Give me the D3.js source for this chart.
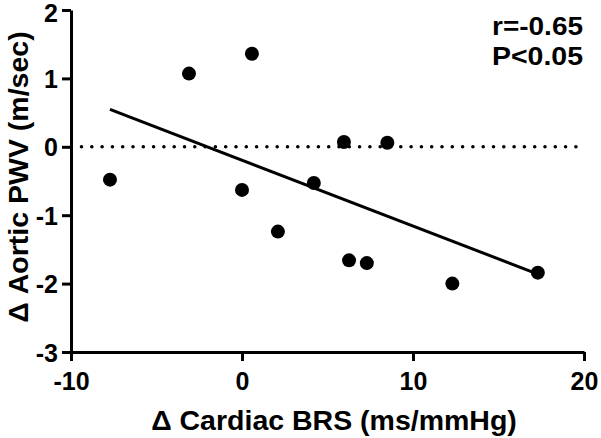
<!DOCTYPE html>
<html>
<head>
<meta charset="utf-8">
<script src="https://cdn.jsdelivr.net/npm/d3@7"></script>
<style>
  html, body { margin: 0; padding: 0; background: #fff; }
  svg { display: block; }
  text { font-family: "Liberation Sans", Arial, sans-serif; font-weight: bold; fill: #000; }
</style>
</head>
<body>
<svg id="chart" width="601" height="438"></svg>
<script>
// Data
const brsChange = [-7.72, -3.1, 0.58, 0.0, 2.1, 4.2, 5.96, 6.26, 7.3, 8.5, 12.3, 17.3];
const pwvChange = [-0.48, 1.07, 1.36, -0.63, -1.24, -0.53, 0.07, -1.66, -1.70, 0.06, -2.0, -1.84];
const xTicks = [-10, 0, 10, 20];
const yTicks = [-3, -2, -1, 0, 1, 2];
const statLines = ["r=-0.65", "P<0.05"];

const svg = d3.select("#chart");
const x = d3.scaleLinear().domain([-10, 20]).range([71, 584]);
const y = d3.scaleLinear().domain([-3, 2]).range([352, 10]);

// Axes
const xAxis = svg.append("g").attr("transform", `translate(0,${y(-3)})`)
  .call(d3.axisBottom(x).tickValues(xTicks).tickSize(9).tickPadding(6).tickSizeOuter(0).tickFormat(d => String(d)));
const yAxis = svg.append("g").attr("transform", `translate(${x(-10)},0)`)
  .call(d3.axisLeft(y).tickValues(yTicks).tickSize(9).tickPadding(4).tickSizeOuter(0).tickFormat(d => String(d)));
[xAxis, yAxis].forEach(g => {
  g.selectAll("path.domain").attr("stroke", "#000").attr("stroke-width", 3);
  g.selectAll(".tick line").attr("stroke", "#000").attr("stroke-width", 3);
  g.selectAll(".tick text").style("font-size", "25px").style("font-family", "'Liberation Sans', Arial, sans-serif").style("font-weight", "bold").attr("fill", "#000");
});
xAxis.selectAll(".tick text").attr("dy", "0.92em");
yAxis.selectAll(".tick text").attr("dy", d => d === 2 ? "0.45em" : "0.36em");

// Dotted zero line
svg.append("line")
  .attr("x1", x(-10) + 10.5).attr("x2", x(20))
  .attr("y1", y(0)).attr("y2", y(0))
  .attr("stroke", "#000").attr("stroke-width", 3.6)
  .attr("stroke-linecap", "round").attr("stroke-dasharray", "0 10.3");

// Linear regression from data
const n = brsChange.length;
const mx = d3.mean(brsChange), my = d3.mean(pwvChange);
let sxy = 0, sxx = 0;
for (let i = 0; i < n; i++) { sxy += (brsChange[i] - mx) * (pwvChange[i] - my); sxx += (brsChange[i] - mx) ** 2; }
const slope = sxy / sxx, icpt = my - slope * mx;
const [xmin, xmax] = d3.extent(brsChange);
svg.append("line")
  .attr("x1", x(xmin)).attr("y1", y(icpt + slope * xmin))
  .attr("x2", x(xmax)).attr("y2", y(icpt + slope * xmax))
  .attr("stroke", "#000").attr("stroke-width", 3);

// Points
svg.append("g").selectAll("circle")
  .data(brsChange.map((v, i) => [v, pwvChange[i]]))
  .join("circle")
  .attr("cx", d => x(d[0])).attr("cy", d => y(d[1])).attr("r", 7)
  .attr("fill", "#000");

// Stats text
svg.append("g").selectAll("text").data(statLines).join("text")
  .attr("x", 583).attr("y", (d, i) => 35 + i * 30)
  .attr("text-anchor", "end").style("font-size", "25px")
  .attr("textLength", 91).attr("lengthAdjust", "spacingAndGlyphs").text(d => d);

// Axis titles
svg.append("text").attr("x", 334).attr("y", 430).attr("text-anchor", "middle")
  .style("font-size", "28.5px").text("Δ Cardiac BRS (ms/mmHg)");
svg.append("text").attr("transform", "translate(28,177) rotate(-90)").attr("text-anchor", "middle")
  .style("font-size", "28.5px").text("Δ Aortic PWV (m/sec)");
</script>
</body>
</html>
